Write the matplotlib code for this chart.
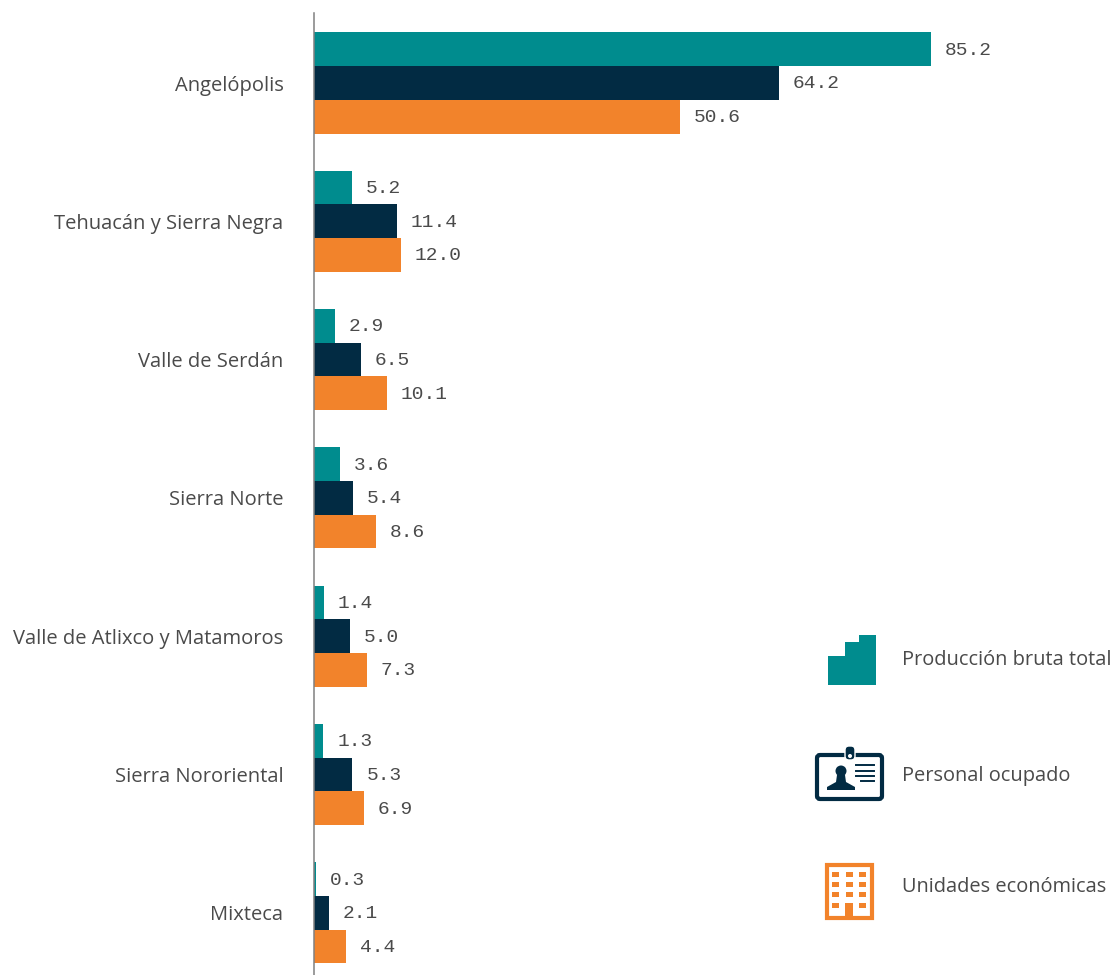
import matplotlib
matplotlib.use("Agg")
import matplotlib.pyplot as plt
from matplotlib.patches import Circle, FancyBboxPatch, Polygon, Rectangle
import numpy as np

regiones = ["Angelópolis", "Tehuacán y Sierra Negra", "Valle de Serdán", "Sierra Norte",
            "Valle de Atlixco y Matamoros", "Sierra Nororiental", "Mixteca"]
produccion = [85.2, 5.2, 2.9, 3.6, 1.4, 1.3, 0.3]
personal = [64.2, 11.4, 6.5, 5.4, 5.0, 5.3, 2.1]
unidades = [50.6, 12.0, 10.1, 8.6, 7.3, 6.9, 4.4]
leyenda = ["Producción bruta total", "Personal ocupado", "Unidades económicas"]

teal = "#008C8E"
navy = "#022B43"
orange = "#F2832B"
gris = "#4A4A4A"

W, H = 1114, 975
fig = plt.figure(figsize=(W / 100, H / 100), dpi=100)
plt.rcParams["font.family"] = ["Open Sans", "DejaVu Sans"]

# eje: 7.24 px por unidad, grupos cada 138.3 px
ax = fig.add_axes([314 / W, 0, (W - 314) / W, (H - 13) / H])
ax.set_xlim(0, (W - 314) / 7.24)
ax.set_ylim((975 - 83) / 138.3, (13 - 83) / 138.3)

y = np.arange(len(regiones))
h = 0.2437
for offs, vals, col in [(-h, produccion, teal), (0, personal, navy), (h, unidades, orange)]:
    ax.barh(y + offs, vals, height=h, color=col, linewidth=0)
    for yy, v in zip(y + offs, vals):
        ax.annotate(f"{v:.1f}", (v, yy), xytext=(10, -0.7), textcoords="offset points",
                    va="center", ha="left", fontsize=14, color=gris,
                    family="Liberation Mono")

ax.set_yticks(y, regiones, fontsize=14.5, color=gris)
ax.tick_params(axis="y", length=0, pad=22)
ax.set_xticks([])
for s in ["top", "right", "bottom"]:
    ax.spines[s].set_visible(False)
ax.spines["left"].set_color("#808080")
ax.spines["left"].set_linewidth(1.1)

# capa en pixeles para los iconos de la leyenda
ov = fig.add_axes([0, 0, 1, 1])
ov.set_xlim(0, W)
ov.set_ylim(H, 0)
ov.axis("off")

for txt, ty in zip(leyenda, [660, 776, 887]):
    ov.text(902, ty, txt, fontsize=14.4, color=gris, va="center", ha="left")

# escalera
ov.add_patch(Polygon([(828, 685), (828, 656), (845, 656), (845, 642), (859, 642),
                      (859, 635), (876, 635), (876, 685)], color=teal, lw=0))

# credencial
ov.add_patch(FancyBboxPatch((817, 755), 65, 44, boxstyle="round,pad=0,rounding_size=3",
                            fc="white", ec=navy, lw=3))
ov.add_patch(FancyBboxPatch((845, 746), 10, 14, boxstyle="round,pad=0,rounding_size=4",
                            fc=navy, ec="white", lw=1))
ov.add_patch(Circle((850, 756), 2, color="white", lw=0))
ov.add_patch(Circle((841, 771), 5.5, color=navy, lw=0))
ov.add_patch(Polygon([(837, 775), (845, 775), (846, 782), (855, 787), (855, 790),
                      (827, 790), (827, 787), (836, 782)], color=navy, lw=0))
for ly, x0 in zip([765, 771, 776, 781], [856, 856, 856, 861]):
    ov.plot([x0, 874], [ly, ly], color=navy, lw=1.4)

# edificio
ov.add_patch(Rectangle((827, 865), 45, 53, fc="white", ec=orange, lw=3))
for fy in [874, 884, 894, 905]:
    for fx in [835, 849, 862]:
        if fy == 905 and fx == 849:
            continue
        ov.add_patch(Rectangle((fx - 3.5, fy - 2.5), 7, 5, color=orange, lw=0))
ov.add_patch(Rectangle((845, 903), 8, 14, color=orange, lw=0))

fig.savefig("out.png", dpi=100)
